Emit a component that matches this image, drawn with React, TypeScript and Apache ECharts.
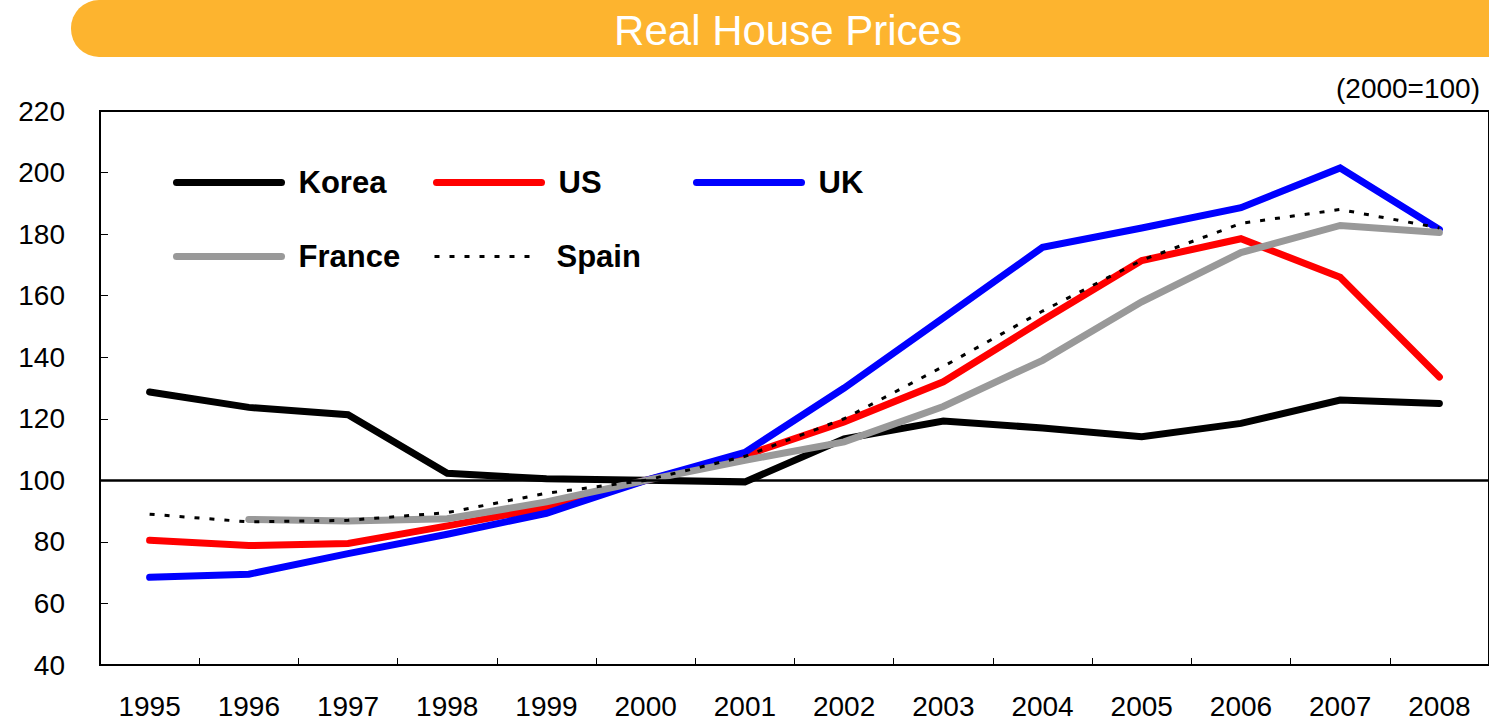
import React, { useEffect, useRef } from "react";
import * as echarts from "echarts";

const years = ["1995","1996","1997","1998","1999","2000","2001","2002","2003","2004","2005","2006","2007","2008"];
const korea = [128.7, 123.7, 121.3, 102.3, 100.5, 100, 99.5, 113.5, 119.3, 117, 114.2, 118.5, 126.1, 125];
const us = [80.5, 78.8, 79.5, 85.2, 91.2, 100, 108.1, 119, 132, 152, 171.4, 178.5, 166, 133.6];
const uk = [68.5, 69.5, 76.2, 82.5, 89.3, 100, 109.1, 130, 152.8, 175.7, 182, 188.6, 201.5, 181.5];
const france = [null, 87.3, 86.8, 87.5, 93, 100, 106.5, 112.5, 124, 139, 158, 174, 182.8, 180.5];
const spain = [89, 86.5, 87, 89.5, 95.8, 100, 107.8, 120, 137, 155, 171.5, 183.5, 188, 182];
const yTicks = { min: 40, max: 220, interval: 20 };
const title = "Real House Prices";
const unitNote = "(2000=100)";

const FONT = "'Liberation Sans', Arial, sans-serif";
const SOLID_W = 7;

export default function App() {
  const ref = useRef<HTMLDivElement>(null);
  useEffect(() => {
    document.body.style.margin = "0";
    const chart = echarts.init(ref.current!, undefined, { renderer: "svg" });
    const solid = (name: string, data: any[], color: string) => ({
      name,
      type: "line",
      data,
      symbol: "none",
      connectNulls: false,
      lineStyle: { color, width: SOLID_W, cap: "round", join: "miter" },
      itemStyle: { color },
    });
    const legendItem = (name: string, left: number, top: number, color: string, dotted = false) => ({
      show: true,
      left,
      top,
      orient: "horizontal",
      itemWidth: 105,
      itemHeight: 30,
      selectedMode: false,
      data: [{ name }],
      itemStyle: { opacity: 0, borderWidth: 0 },
      lineStyle: dotted
        ? { color, width: 3, type: [5, 10], cap: "butt", opacity: 1 }
        : { color, width: SOLID_W, type: "solid", cap: "round", opacity: 1 },
      textStyle: {
        fontSize: 31,
        fontWeight: "bold",
        color: "#000",
        fontFamily: FONT,
        padding: [0, 0, 0, 12],
      },
    });
    chart.setOption({
      animation: false,
      backgroundColor: "#fff",
      textStyle: { fontFamily: FONT },
      grid: {
        left: 100,
        top: 111,
        width: 1393,
        height: 554,
        show: true,
        borderColor: "#000",
        borderWidth: 2,
        backgroundColor: "transparent",
      },
      legend: [
        legendItem("Korea", 168, 162, "#000000"),
        legendItem("US", 428, 162, "#ff0000"),
        legendItem("UK", 688, 162, "#0000ff"),
        legendItem("France", 168, 236, "#999999"),
        legendItem("Spain", 428, 236, "#000000", true),
      ],
      xAxis: {
        type: "category",
        data: years,
        boundaryGap: true,
        axisLine: { show: true, lineStyle: { color: "#000", width: 2 } },
        axisTick: { show: true, inside: true, length: 7, lineStyle: { color: "#000", width: 1 } },
        axisLabel: { fontSize: 28, color: "#000", margin: 27, fontFamily: FONT },
        splitLine: { show: false },
      },
      yAxis: {
        type: "value",
        min: yTicks.min,
        max: yTicks.max,
        interval: yTicks.interval,
        axisLine: { show: true, lineStyle: { color: "#000", width: 2 } },
        axisTick: { show: true, inside: true, length: 8, lineStyle: { color: "#000", width: 1 } },
        axisLabel: { fontSize: 28, color: "#000", margin: 35, fontFamily: FONT },
        splitLine: { show: false },
      },
      series: [
        {
          ...solid("Korea", korea, "#000000"),
          markLine: {
            silent: true,
            symbol: "none",
            label: { show: false },
            emphasis: { disabled: true },
            lineStyle: { color: "#000", width: 2.5, type: "solid" },
            data: [{ yAxis: 100 }],
          },
        },
        solid("US", us, "#ff0000"),
        solid("UK", uk, "#0000ff"),
        solid("France", france, "#999999"),
        {
          name: "Spain",
          type: "line",
          data: spain,
          symbol: "none",
          lineStyle: { color: "#000", width: 3, type: [5, 10], cap: "butt" },
          itemStyle: { color: "#000" },
        },
      ],
      graphic: [
        {
          type: "rect",
          shape: { x: 71, y: 0, width: 1460, height: 57, r: [28, 0, 0, 28] },
          style: { fill: "#fdb42f" },
        },
        {
          type: "text",
          x: 788,
          y: 30,
          style: {
            text: title,
            fill: "#fff",
            font: `42px ${FONT}`,
            align: "center",
            verticalAlign: "middle",
          },
        },
        {
          type: "text",
          x: 1480,
          y: 88,
          style: {
            text: unitNote,
            fill: "#000",
            font: `28px ${FONT}`,
            align: "right",
            verticalAlign: "middle",
          },
        },
      ],
    });
    return () => chart.dispose();
  }, []);
  return (
    <div
      ref={ref}
      style={{ position: "fixed", left: 0, top: 0, width: 1489, height: 721, overflow: "hidden" }}
    />
  );
}
